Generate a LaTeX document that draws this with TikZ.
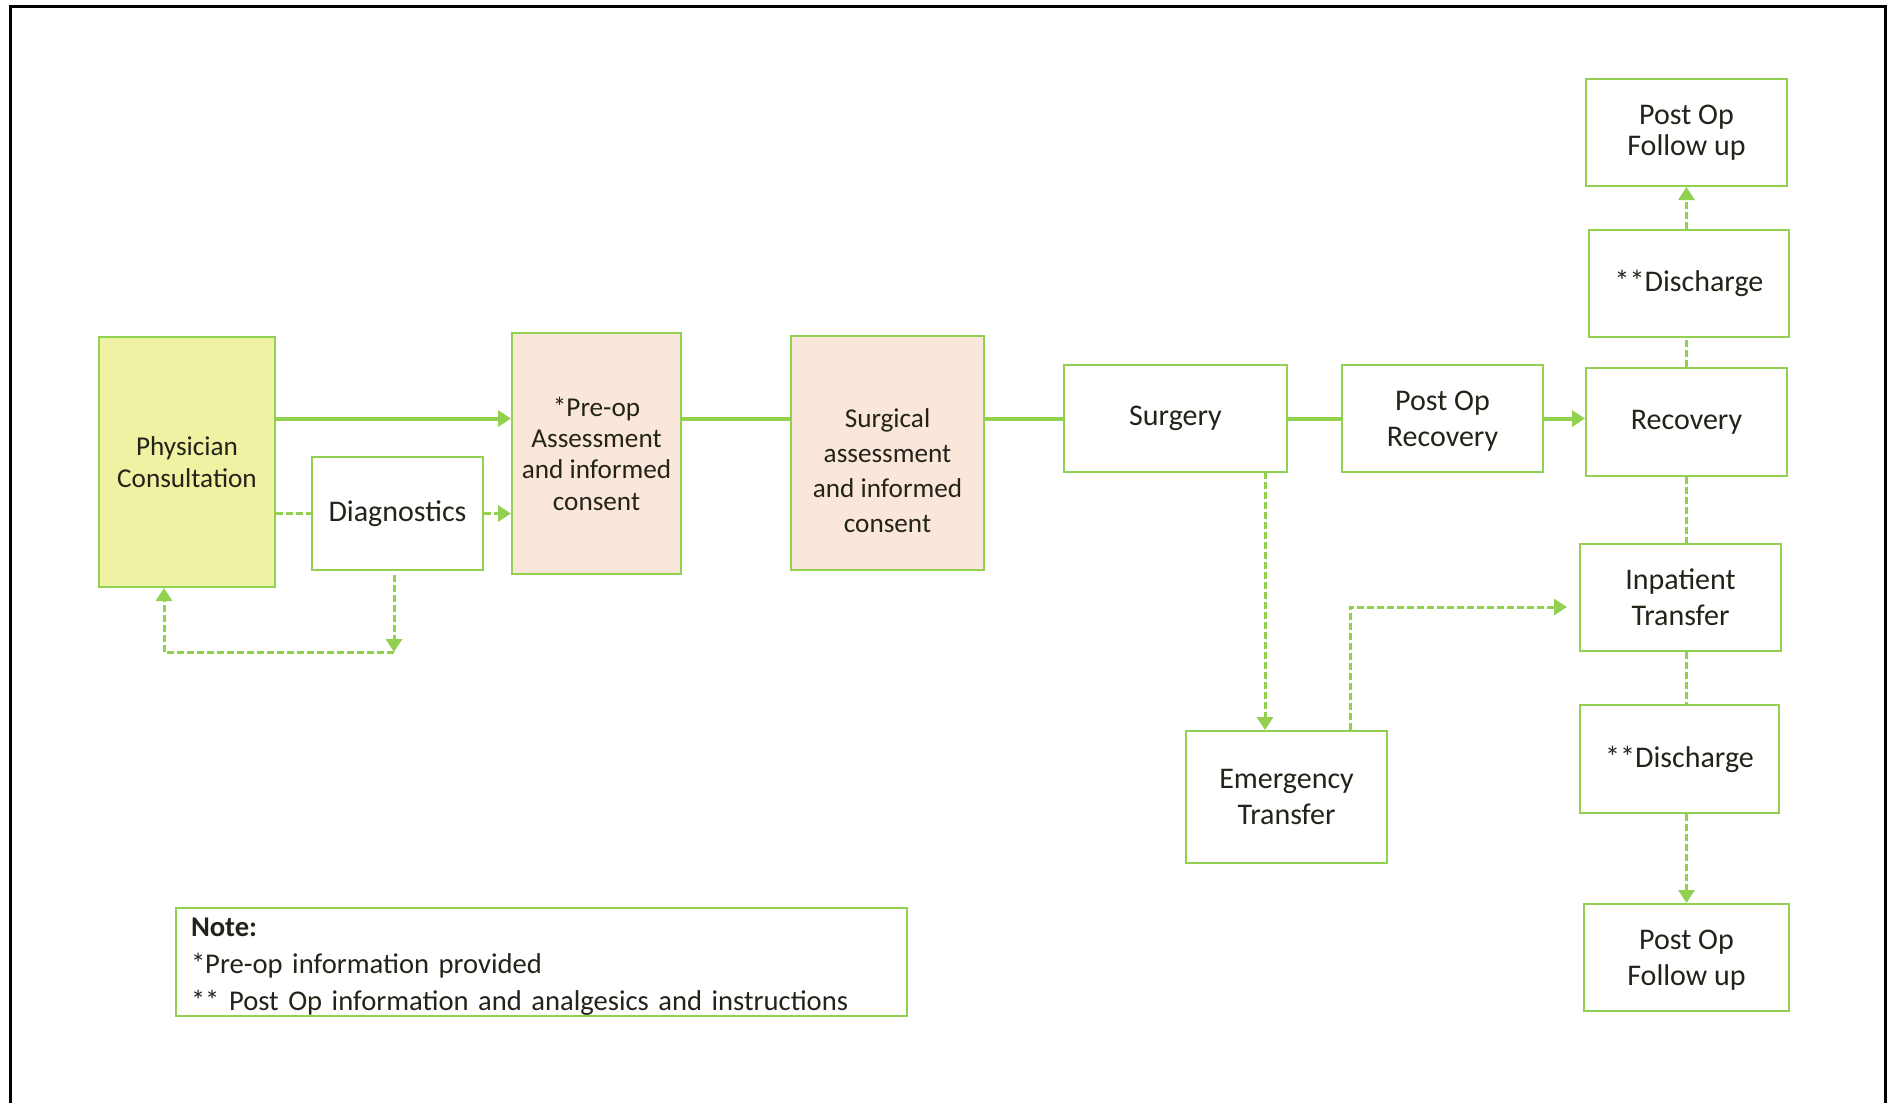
\documentclass[tikz,border=0pt]{standalone}
\usepackage{fontspec}
\setmainfont{Carlito}
\usepackage{xcolor}
\definecolor{flowgreen}{HTML}{92D050}
\definecolor{consultfill}{HTML}{EEF2A2}
\definecolor{assessfill}{HTML}{FBE7DA}
\definecolor{inkdark}{HTML}{23231A}
\usetikzlibrary{arrows.meta}

\begin{document}
\begin{tikzpicture}[x=0.5pt,y=-0.5pt,
  box/.style={draw=flowgreen,fill=#1,line width=1pt,align=center,
              inner sep=2pt,text=inkdark,font=\fontsize{15}{18}\selectfont},
  box/.default=white,
  tight/.style={font=\fontsize{13.6}{15.7}\selectfont},
  flow/.style={draw=flowgreen,line width=2pt},
  link/.style={draw=flowgreen,line width=1.5pt,dash pattern=on 3.5pt off 1.5pt},
  tip/.style={-{Triangle[length=6.5pt,width=8pt]}}
]
\useasboundingbox (0,0) rectangle (1894,1103);
\draw[line width=1.5pt] (10,1103) -- (10,6) -- (1885,6) -- (1885,1103);

\node[box=consultfill,tight,minimum width=88pt,minimum height=125pt] (consult) at (187,462)
  {Physician\\Consultation};
\node[box,minimum width=85.5pt,minimum height=56.5pt] (diag) at (397.5,513.5)
  {Diagnostics};
\node[box=assessfill,tight,minimum width=84.5pt,minimum height=120.5pt,text depth=-3pt] (preop) at (596.5,453.5)
  {*Pre-op\\Assessment\\and informed\\consent};
\node[box=assessfill,minimum width=96.5pt,minimum height=117pt,
      font=\fontsize{13.6}{17.5}\selectfont] (surgassess) at (887.5,453)
  {\rule{0pt}{27pt}Surgical\\assessment\\and informed\\consent};
\node[box,minimum width=111.5pt,minimum height=53.5pt] (surgery) at (1175.5,418.5)
  {Surgery};
\node[box,minimum width=100.5pt,minimum height=53.5pt,text depth=-4pt] (postrec) at (1442.5,418.5)
  {Post Op\\Recovery};
\node[box,minimum width=100.5pt,minimum height=54pt] (recovery) at (1686.5,422)
  {Recovery};
\node[box,minimum width=100pt,minimum height=53.5pt] (dischtop) at (1689,283.5)
  {**Discharge};
\node[box,font=\fontsize{15}{15.7}\selectfont,minimum width=100.5pt,minimum height=53.5pt] (followtop) at (1686.5,132.5)
  {Post Op\\Follow up};
\node[box,minimum width=100.5pt,minimum height=53.5pt] (inpatient) at (1680.5,597.5)
  {Inpatient\\Transfer};
\node[box,minimum width=99.5pt,minimum height=54pt] (dischbot) at (1679.5,759)
  {**Discharge};
\node[box,minimum width=102.5pt,minimum height=53.5pt,text depth=-3pt] (followbot) at (1686.5,957.5)
  {Post Op\\Follow up};
\node[box,minimum width=100.5pt,minimum height=66pt] (emergency) at (1286.5,797)
  {Emergency\\Transfer};
\node[box,minimum width=365.5pt,minimum height=54pt,text width=350.5pt,inner xsep=7.5pt,inner ysep=0pt,
      align=left,font=\fontsize{14.3}{18.5}\selectfont] (note) at (541.5,962)
  {\rule{0pt}{14pt}\textbf{Note:}\\{}*Pre-op information provided\\{}** Post Op information and analgesics and instructions};

\coordinate (loopR) at (394,652);
\coordinate (loopL) at (164,652);
\coordinate (drop) at (1265,472);
\coordinate (bend) at (1350,607);

\draw[flow,tip] (consult.east |- postrec.west) -- (preop.west |- postrec.west);
\draw[flow] (preop.east |- postrec.west) -- (surgassess.west |- postrec.west);
\draw[flow] (surgassess.east |- postrec.west) -- (surgery.west);
\draw[flow] (surgery.east) -- (postrec.west);
\draw[flow,tip] (postrec.east) -- (postrec.east -| recovery.west);

\draw[link] (diag.west -| consult.east) -- (diag.west);
\draw[link,tip] (diag.east) -- (diag.east -| preop.west);
\draw[link,tip] ([yshift=-2pt]diag.south -| loopR) -- (loopR);
\draw[link,tip] (loopR) -- (loopL) -- (consult.south -| loopL);

\draw[link,tip] (drop) -- (drop |- emergency.north);
\draw[link,tip] (bend |- emergency.north) -- (bend) -- ([xshift=-6pt]bend -| inpatient.west);

\draw[link] (recovery.north) -- (recovery.north |- dischtop.south);
\draw[link,tip] (followtop.south |- dischtop.north) -- (followtop.south);
\draw[link] (recovery.south) -- (recovery.south |- inpatient.north);
\draw[link] (recovery.south |- inpatient.south) -- (recovery.south |- dischbot.north);
\draw[link,tip] (recovery.south |- dischbot.south) -- (followbot.north);
\end{tikzpicture}
\end{document}
